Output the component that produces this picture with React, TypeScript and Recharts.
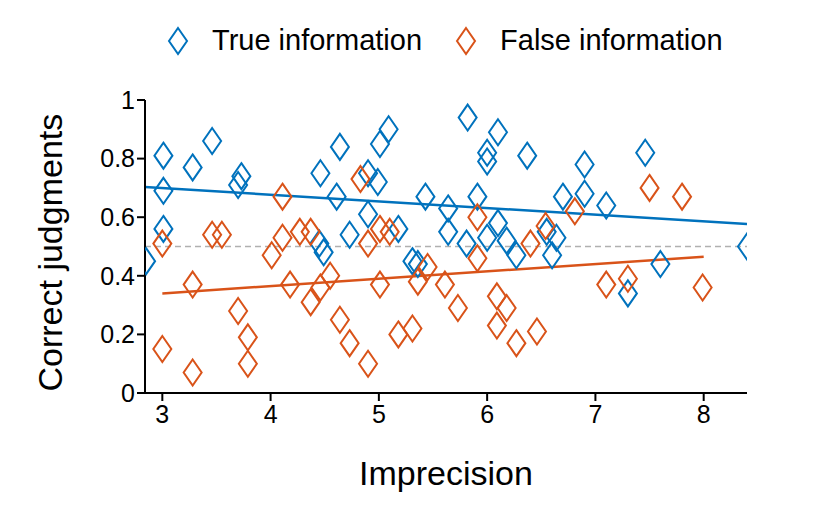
import React from 'react'
import { ComposedChart, Scatter, Line, XAxis, YAxis, ReferenceLine } from 'recharts'

const trueInfo = [
  { x: 2.85, y: 0.45 }, { x: 3.01, y: 0.81 }, { x: 3.01, y: 0.69 }, { x: 3.01, y: 0.56 },
  { x: 3.28, y: 0.77 }, { x: 3.46, y: 0.86 }, { x: 3.7, y: 0.71 }, { x: 3.73, y: 0.74 },
  { x: 4.46, y: 0.75 }, { x: 4.45, y: 0.51 }, { x: 4.49, y: 0.48 }, { x: 4.64, y: 0.84 },
  { x: 4.61, y: 0.67 }, { x: 4.73, y: 0.54 }, { x: 4.9, y: 0.75 }, { x: 5.01, y: 0.85 },
  { x: 5.09, y: 0.9 }, { x: 4.99, y: 0.72 }, { x: 4.9, y: 0.61 }, { x: 5.18, y: 0.56 },
  { x: 5.31, y: 0.45 }, { x: 5.36, y: 0.44 }, { x: 5.43, y: 0.67 }, { x: 5.82, y: 0.94 },
  { x: 6.1, y: 0.89 }, { x: 6.0, y: 0.82 }, { x: 6.0, y: 0.79 }, { x: 6.37, y: 0.81 },
  { x: 6.9, y: 0.78 }, { x: 7.46, y: 0.82 }, { x: 5.64, y: 0.63 }, { x: 5.64, y: 0.55 },
  { x: 5.91, y: 0.67 }, { x: 5.81, y: 0.51 }, { x: 6.0, y: 0.53 }, { x: 6.1, y: 0.58 },
  { x: 6.18, y: 0.52 }, { x: 6.27, y: 0.47 }, { x: 6.6, y: 0.47 }, { x: 6.64, y: 0.53 },
  { x: 6.55, y: 0.55 }, { x: 6.7, y: 0.67 }, { x: 6.9, y: 0.68 }, { x: 7.1, y: 0.64 },
  { x: 7.3, y: 0.34 }, { x: 7.6, y: 0.44 }, { x: 8.4, y: 0.5 },
]

const falseInfo = [
  { x: 3.0, y: 0.51 }, { x: 3.0, y: 0.15 }, { x: 3.28, y: 0.37 }, { x: 3.28, y: 0.07 },
  { x: 3.46, y: 0.54 }, { x: 3.55, y: 0.54 }, { x: 3.7, y: 0.28 }, { x: 3.79, y: 0.19 },
  { x: 3.79, y: 0.1 }, { x: 4.11, y: 0.67 }, { x: 4.11, y: 0.53 }, { x: 4.01, y: 0.47 },
  { x: 4.18, y: 0.37 }, { x: 4.27, y: 0.55 }, { x: 4.37, y: 0.55 }, { x: 4.37, y: 0.31 },
  { x: 4.46, y: 0.36 }, { x: 4.55, y: 0.4 }, { x: 4.64, y: 0.25 }, { x: 4.73, y: 0.17 },
  { x: 4.9, y: 0.1 }, { x: 4.83, y: 0.73 }, { x: 4.9, y: 0.51 }, { x: 5.01, y: 0.56 },
  { x: 5.1, y: 0.55 }, { x: 5.01, y: 0.37 }, { x: 5.18, y: 0.2 }, { x: 5.31, y: 0.22 },
  { x: 5.36, y: 0.38 }, { x: 5.45, y: 0.43 }, { x: 5.61, y: 0.37 }, { x: 5.73, y: 0.29 },
  { x: 5.91, y: 0.6 }, { x: 5.91, y: 0.46 }, { x: 6.09, y: 0.33 }, { x: 6.18, y: 0.29 },
  { x: 6.09, y: 0.23 }, { x: 6.27, y: 0.17 }, { x: 6.46, y: 0.21 }, { x: 6.4, y: 0.51 },
  { x: 6.54, y: 0.57 }, { x: 6.81, y: 0.62 }, { x: 7.1, y: 0.37 }, { x: 7.3, y: 0.39 },
  { x: 7.5, y: 0.7 }, { x: 7.8, y: 0.67 }, { x: 7.99, y: 0.36 },
]

// fitted regression lines (endpoints)
const trueFit = [{ x: 2.84, y: 0.703 }, { x: 8.4, y: 0.577 }]
const falseFit = [{ x: 3.0, y: 0.34 }, { x: 8.0, y: 0.465 }]

const xTicks = [3, 4, 5, 6, 7, 8]
const yTicks = [0, 0.2, 0.4, 0.6, 0.8, 1]

const BLUE = '#0072BD'
const ORANGE = '#D95319'
const FONT = 'Liberation Sans, Arial, sans-serif'

const diamond = (color: string) => (props: any) => {
  const { cx, cy } = props
  if (cx == null || cy == null) return null
  return (
    <path
      d={`M${cx},${cy - 13} L${cx + 9},${cy} L${cx},${cy + 13} L${cx - 9},${cy} Z`}
      fill="none"
      stroke={color}
      strokeWidth={2}
    />
  )
}

function LegendItem({ color, label }: { color: string; label: string }) {
  return (
    <span style={{ display: 'inline-flex', alignItems: 'center', marginRight: 32 }}>
      <svg width={24} height={30} style={{ marginRight: 22 }}>
        <path d="M12,2 L21,15 L12,28 L3,15 Z" fill="none" stroke={color} strokeWidth={2} />
      </svg>
      {label}
    </span>
  )
}

export default function App() {
  return (
    <div style={{ position: 'absolute', left: 0, top: 0, width: 826, height: 526, background: '#fff', fontFamily: FONT }}>
      <div style={{ position: 'absolute', left: 166, top: 24, fontSize: 29, display: 'flex', color: '#000' }}>
        <LegendItem color={BLUE} label="True information" />
        <LegendItem color={ORANGE} label="False information" />
      </div>
      <ComposedChart width={826} height={526} margin={{ top: 100, right: 79, bottom: 33, left: 90 }}>
        <XAxis
          dataKey="x"
          type="number"
          domain={[2.84, 8.4]}
          ticks={xTicks}
          allowDataOverflow
          stroke="#000"
          strokeWidth={2}
          tickSize={8}
          height={100}
          tick={{ fill: '#000', fontSize: 25, fontFamily: FONT, dy: 2 }}
          label={{ value: 'Imprecision', position: 'insideBottom', offset: 8, fill: '#000', fontSize: 34, fontFamily: FONT }}
        />
        <YAxis
          dataKey="y"
          type="number"
          domain={[0, 1]}
          ticks={yTicks}
          tickFormatter={(v: number) => String(v)}
          stroke="#000"
          strokeWidth={2}
          tickSize={8}
          width={55}
          tick={{ fill: '#000', fontSize: 25, fontFamily: FONT }}
          label={{ value: 'Correct judgments', angle: -90, position: 'insideLeft', offset: -40, dy: 145, fill: '#000', fontSize: 34, fontFamily: FONT }}
        />
        <ReferenceLine y={0.5} stroke="#b0b0b0" strokeDasharray="6 4" strokeWidth={1.5} />
        <Scatter data={trueInfo} shape={diamond(BLUE)} isAnimationActive={false} />
        <Scatter data={falseInfo} shape={diamond(ORANGE)} isAnimationActive={false} />
        <Line data={trueFit} dataKey="y" stroke={BLUE} strokeWidth={2.5} dot={false} activeDot={false} isAnimationActive={false} />
        <Line data={falseFit} dataKey="y" stroke={ORANGE} strokeWidth={2.5} dot={false} activeDot={false} isAnimationActive={false} />
      </ComposedChart>
    </div>
  )
}
